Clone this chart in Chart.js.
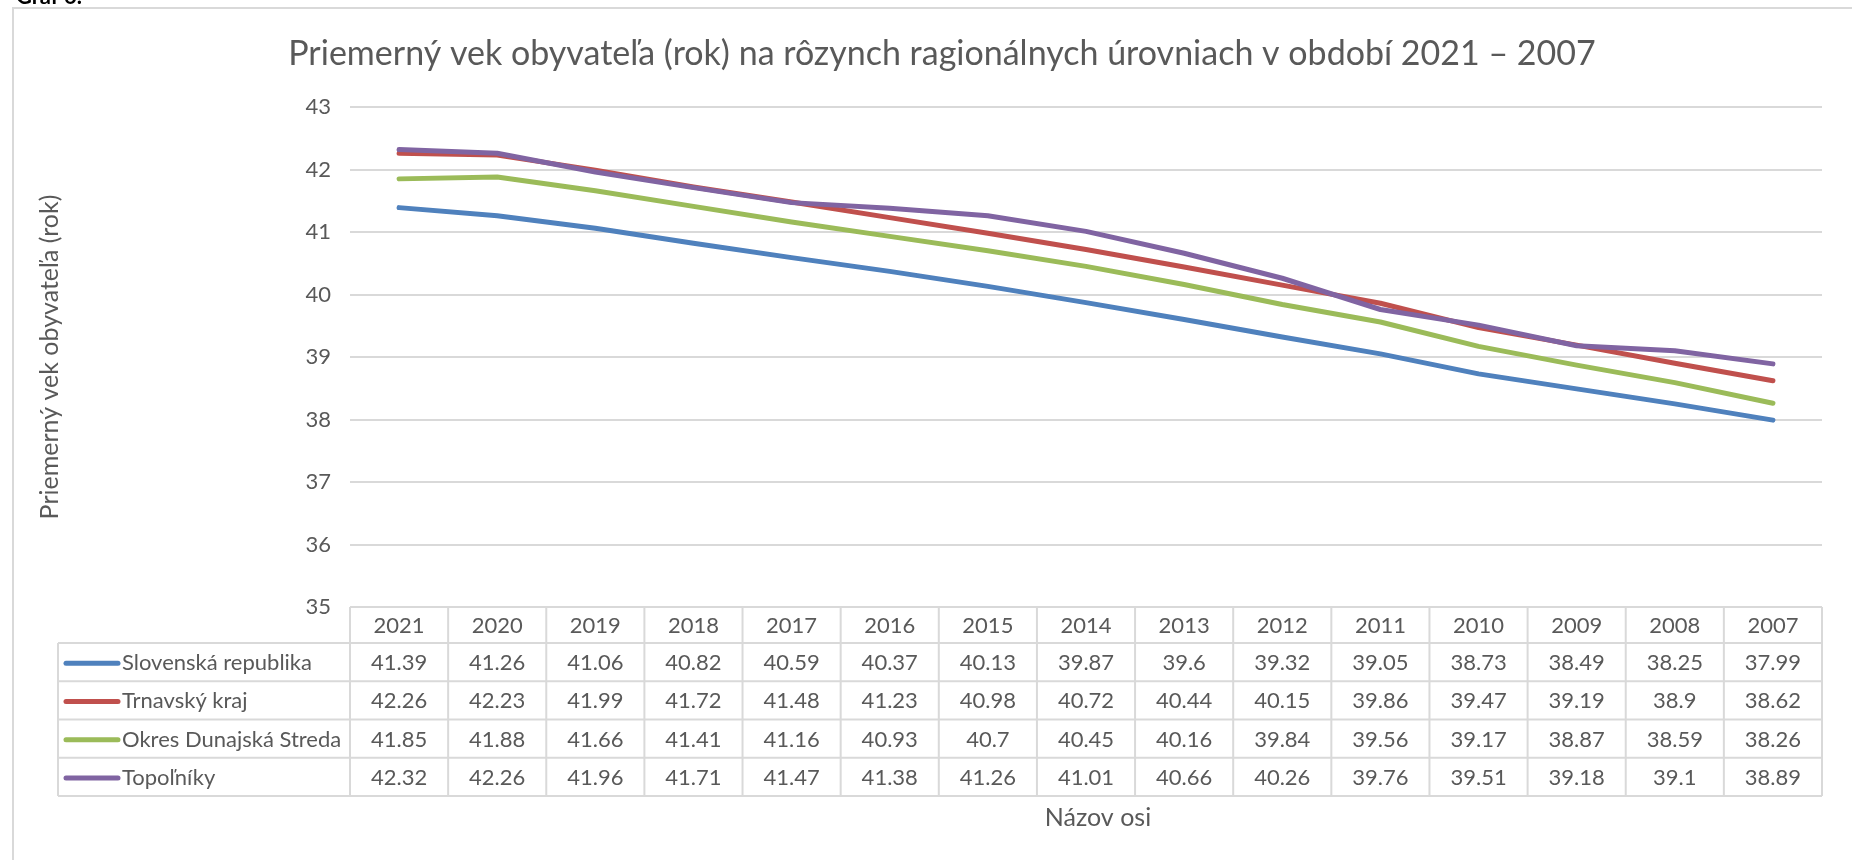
<!DOCTYPE html>
<html>
<head>
<meta charset="utf-8">
<title>Graf 6</title>
<script src="https://cdn.jsdelivr.net/npm/chart.js@4.4.0/dist/chart.umd.min.js"></script>
<style>
  html, body { margin: 0; padding: 0; background: #fff; }
  canvas { display: block; }
</style>
</head>
<body>
<canvas id="graf" width="1852" height="860"></canvas>
<script>
// údaje z grafu
var roky = ['2021', '2020', '2019', '2018', '2017', '2016', '2015', '2014', '2013', '2012', '2011', '2010', '2009', '2008', '2007'];
var slovensko = [41.39, 41.26, 41.06, 40.82, 40.59, 40.37, 40.13, 39.87, 39.6, 39.32, 39.05, 38.73, 38.49, 38.25, 37.99];
var trnavsky = [42.26, 42.23, 41.99, 41.72, 41.48, 41.23, 40.98, 40.72, 40.44, 40.15, 39.86, 39.47, 39.19, 38.9, 38.62];
var dunajska = [41.85, 41.88, 41.66, 41.41, 41.16, 40.93, 40.7, 40.45, 40.16, 39.84, 39.56, 39.17, 38.87, 38.59, 38.26];
var topolniky = [42.32, 42.26, 41.96, 41.71, 41.47, 41.38, 41.26, 41.01, 40.66, 40.26, 39.76, 39.51, 39.18, 39.1, 38.89];
var nazvy = ['Slovenská republika', 'Trnavský kraj', 'Okres Dunajská Streda', 'Topoľníky'];
var osY = [35, 36, 37, 38, 39, 40, 41, 42, 43];

var nadpis = 'Priemerný vek obyvateľa (rok) na rôzynch ragionálnych úrovniach v období 2021 – 2007';
var nazovY = 'Priemerný vek obyvateľa (rok)';
var nazovX = 'Názov osi';

var farby = ['#4F81BD', '#C0504D', '#9BBB59', '#8064A2'];
var sivaText = '#595959';
var sivaCiara = '#d9d9d9';
var pismo = 'Lato, "Open Sans", sans-serif';

var serie = [slovensko, trnavsky, dunajska, topolniky];

// tabuľka pod grafom + nadpisy
var tabulka = {
    id: 'tabulka',
    afterDraw: function(chart) {
        var ctx = chart.ctx;
        var a = chart.chartArea;
        var sx = chart.scales.x;
        ctx.save();

        // rámček grafu
        ctx.strokeStyle = sivaCiara;
        ctx.lineWidth = 2;
        ctx.beginPath();
        ctx.moveTo(13, 870);
        ctx.lineTo(13, 8);
        ctx.lineTo(1870, 8);
        ctx.stroke();

        // text nad grafom (orezaný)
        ctx.fillStyle = '#000';
        ctx.font = 'bold 22px ' + pismo;
        ctx.textAlign = 'left';
        ctx.textBaseline = 'alphabetic';
        ctx.fillText('Graf 6.', 16, 4);

        // nadpis
        ctx.fillStyle = sivaText;
        ctx.font = '34px ' + pismo;
        ctx.textAlign = 'center';
        ctx.textBaseline = 'middle';
        ctx.fillText(nadpis, 942, 54);

        // názov osi Y
        ctx.save();
        ctx.translate(50, (a.top + a.bottom) / 2);
        ctx.rotate(-Math.PI / 2);
        ctx.font = '25px ' + pismo;
        ctx.fillText(nazovY, 0, 0);
        ctx.restore();

        // hranice stĺpcov
        var hranice = [a.left];
        for (var i = 0; i < roky.length - 1; i++) {
            hranice.push((sx.getPixelForValue(i) + sx.getPixelForValue(i + 1)) / 2);
        }
        hranice.push(a.right);

        var hore = a.bottom;
        var hlavicka = 36;
        var riadok = 38.25;
        var dole = hore + hlavicka + riadok * serie.length;
        var lavo = 58;

        ctx.strokeStyle = sivaCiara;
        ctx.lineWidth = 2;
        ctx.beginPath();
        ctx.moveTo(a.left, hore);
        ctx.lineTo(a.right, hore);
        for (var r = 0; r <= serie.length; r++) {
            var yy = hore + hlavicka + r * riadok;
            ctx.moveTo(lavo, yy);
            ctx.lineTo(a.right, yy);
        }
        hranice.forEach(function(hx) {
            ctx.moveTo(hx, hore);
            ctx.lineTo(hx, dole);
        });
        ctx.moveTo(lavo, hore + hlavicka);
        ctx.lineTo(lavo, dole);
        ctx.stroke();

        ctx.fillStyle = sivaText;
        ctx.font = '22px ' + pismo;
        ctx.textAlign = 'center';
        ctx.textBaseline = 'middle';
        roky.forEach(function(rok, i) {
            ctx.fillText(rok, sx.getPixelForValue(i), hore + hlavicka / 2 + 1);
        });

        serie.forEach(function(data, s) {
            var stred = hore + hlavicka + riadok * s + riadok / 2 + 1;
            // kľúč legendy
            ctx.strokeStyle = farby[s];
            ctx.lineWidth = 5;
            ctx.lineCap = 'round';
            ctx.beginPath();
            ctx.moveTo(66, stred);
            ctx.lineTo(118, stred);
            ctx.stroke();

            ctx.fillStyle = sivaText;
            ctx.textAlign = 'left';
            ctx.fillText(nazvy[s], 122, stred);
            ctx.textAlign = 'center';
            data.forEach(function(v, i) {
                ctx.fillText(String(v), sx.getPixelForValue(i), stred);
            });
        });

        // názov osi X
        ctx.font = '25px ' + pismo;
        ctx.fillText(nazovX, (a.left + a.right) / 2 + 12, dole + 22);

        ctx.restore();
    }
};

var ctx = document.getElementById('graf').getContext('2d');
new Chart(ctx, {
    type: 'line',
    data: {
        labels: roky,
        datasets: serie.map(function(data, i) {
            return {
                label: nazvy[i],
                data: data,
                borderColor: farby[i],
                backgroundColor: farby[i],
                borderWidth: 5,
                borderCapStyle: 'round',
                borderJoinStyle: 'round',
                pointRadius: 0,
                tension: 0,
                order: serie.length - i
            };
        })
    },
    options: {
        responsive: false,
        animation: false,
        layout: {
            padding: { left: 0, right: 30, top: 107, bottom: 253 }
        },
        plugins: {
            legend: { display: false },
            title: { display: false },
            tooltip: { enabled: false }
        },
        scales: {
            x: {
                offset: true,
                ticks: { display: false },
                grid: { display: false },
                border: { display: false },
                afterFit: function(scale) { scale.height = 0; }
            },
            y: {
                min: osY[0],
                max: osY[osY.length - 1],
                afterBuildTicks: function(scale) {
                    scale.ticks = osY.map(function(v) { return { value: v }; });
                },
                ticks: {
                    color: sivaText,
                    font: { family: pismo, size: 22 },
                    padding: 19
                },
                grid: {
                    color: sivaCiara,
                    lineWidth: 2,
                    drawTicks: false
                },
                border: { display: false },
                afterFit: function(scale) { scale.width = 350; }
            }
        }
    },
    plugins: [tabulka]
});
</script>
</body>
</html>
